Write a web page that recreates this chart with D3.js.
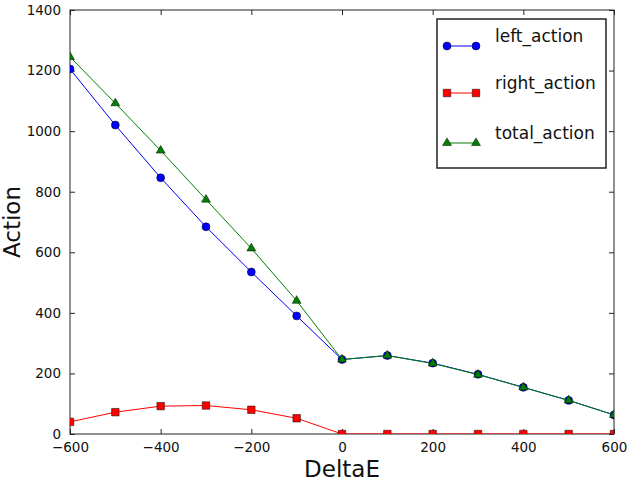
<!DOCTYPE html>
<html><head><meta charset="utf-8">
<script src="https://cdn.jsdelivr.net/npm/d3@7"></script>
<style>body{margin:0;background:#fff}svg{display:block;font-family:"DejaVu Sans",sans-serif}</style>
</head><body><svg id="c" width="627" height="492"></svg>
<script>
const deltaE = [-600,-500,-400,-300,-200,-100,0,100,200,300,400,500,600];
const leftAction  = [1205,1020,846,684,535,390,246,259,234,197,154,111,63];
const rightAction = [40,72,92,94,80,52,0,0,0,0,0,0,0];
const totalAction = [1245,1092,936,774,613,440,246,259,233,196,154,111,63];
const xTicks = [-600,-400,-200,0,200,400,600];
const yTicks = [0,200,400,600,800,1000,1200,1400];
const seriesNames = ["left_action","right_action","total_action"];

const svg = d3.select("#c");
const L=70,R=614,T=10,B=434;
const x = d3.scaleLinear().domain([-600,600]).range([L,R]);
const y = d3.scaleLinear().domain([0,1400]).range([B,T]);

const series = [
  {name:seriesNames[0], vals:leftAction, color:"#0000ff", shape:"circle"},
  {name:seriesNames[1], vals:rightAction, color:"#ff0000", shape:"square"},
  {name:seriesNames[2], vals:totalAction, color:"#008000", shape:"triangle"}
];
const symMap = {circle:d3.symbolCircle, square:d3.symbolSquare, triangle:d3.symbolTriangle};
const sizeMap = {circle:50, square:56, triangle:34};

// axes (ticks inward)
const fmt = d=> d<0 ? "\u2212"+Math.abs(d) : String(d);
const ax = [
  [d3.axisBottom(x).tickValues(xTicks).tickSizeInner(-5).tickSizeOuter(0).tickPadding(8).tickFormat(fmt), `translate(0,${B})`, true],
  [d3.axisTop(x).tickValues(xTicks).tickSizeInner(-5).tickSizeOuter(0).tickFormat(""), `translate(0,${T})`, false],
  [d3.axisLeft(y).tickValues(yTicks).tickSizeInner(-5).tickSizeOuter(0).tickPadding(9).tickFormat(fmt), `translate(${L},0)`, true],
  [d3.axisRight(y).tickValues(yTicks).tickSizeInner(-5).tickSizeOuter(0).tickFormat(""), `translate(${R},0)`, false]
];
ax.forEach(([a,t,lab])=>{
  const g = svg.append("g").attr("transform",t).call(a);
  g.select(".domain").remove();
  g.selectAll("line").attr("stroke","#222");
  g.selectAll("text").attr("font-size",13.5).attr("fill","#111").attr("font-family","DejaVu Sans");
});
svg.append("rect").attr("x",L).attr("y",T).attr("width",R-L).attr("height",B-T)
  .attr("fill","none").attr("stroke","#222").attr("stroke-width",1);

const clip = svg.append("defs").append("clipPath").attr("id","cp").append("rect")
  .attr("x",L-6).attr("y",T-6).attr("width",R-L+12).attr("height",B-T+12);
const plot = svg.append("g");

const line = d3.line().x((d,i)=>x(deltaE[i])).y(d=>y(d));
series.forEach(s=>{
  plot.append("path").datum(s.vals).attr("d",line).attr("fill","none")
    .attr("stroke",s.color).attr("stroke-width",1);
  plot.selectAll(null).data(s.vals).enter().append("path")
    .attr("transform",(d,i)=>`translate(${x(deltaE[i])},${y(d)})`)
    .attr("d",d3.symbol().type(symMap[s.shape]).size(sizeMap[s.shape]))
    .attr("fill",s.color).attr("stroke","#000").attr("stroke-width",0.5);
});
// clip points to axes region (matplotlib clips markers at the spines)
plot.attr("clip-path","url(#cpi)");
svg.select("defs").append("clipPath").attr("id","cpi").append("rect")
  .attr("x",L).attr("y",T).attr("width",R-L).attr("height",B-T);

// legend
const lg = svg.append("g");
lg.append("rect").attr("x",437).attr("y",19).attr("width",169).attr("height",149)
  .attr("fill","#fff").attr("stroke","#222").attr("stroke-width",1.5);
const legY = [46,93,143];
series.forEach((s,k)=>{
  lg.append("line").attr("x1",447).attr("x2",476).attr("y1",legY[k]).attr("y2",legY[k])
    .attr("stroke",s.color).attr("stroke-width",1);
  [447,476].forEach(px=>{
    lg.append("path").attr("transform",`translate(${px},${legY[k]})`)
      .attr("d",d3.symbol().type(symMap[s.shape]).size(sizeMap[s.shape]))
      .attr("fill",s.color).attr("stroke","#000").attr("stroke-width",0.5);
  });
  lg.append("text").attr("x",495).attr("y",legY[k]-4).attr("font-size",17)
    .attr("fill","#111").text(s.name);
});

// axis labels
svg.append("text").attr("x",(L+R)/2).attr("y",477).attr("text-anchor","middle")
  .attr("font-size",23).attr("fill","#111").text("DeltaE");
svg.append("text").attr("transform",`translate(20,${(T+B)/2}) rotate(-90)`)
  .attr("text-anchor","middle").attr("font-size",23).attr("fill","#111").text("Action");
</script></body></html>
